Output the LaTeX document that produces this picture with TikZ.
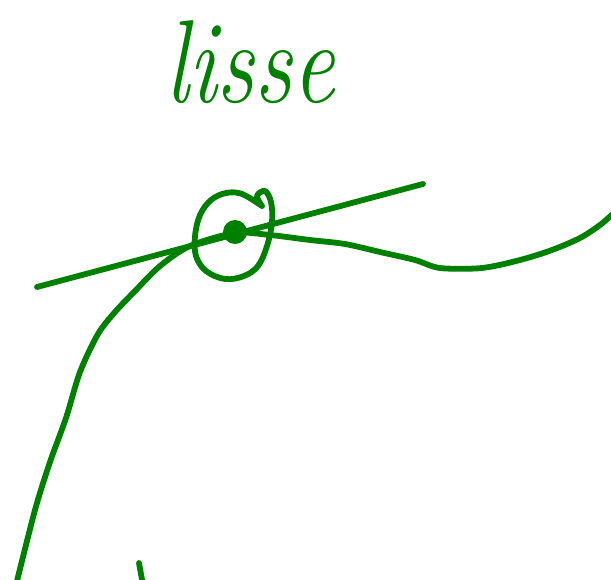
\documentclass[tikz,border=0pt]{standalone}
\definecolor{pen}{HTML}{008000}
\tikzset{ink/.style={draw=pen,line width=5.8pt,line cap=round,line join=round}}
\begin{document}
\begin{tikzpicture}[x=1pt,y=-1pt]
\useasboundingbox (0,0) rectangle (611,579);
% word
\node[text=pen,font=\fontsize{118}{118}\selectfont\itshape,inner sep=0pt,anchor=base,xscale=0.8] (word) at (250,102) {lisse};
% curve
\draw[ink] plot[smooth,tension=0.5] coordinates {(16,585) (35,510) (50,462) (66,418) (80,372) (98,334) (115,312) (135,291) (160,266) (190,246) (235,233) (270,235) (310,240) (345,244) (380,252) (415,260) (440,268) (482,268) (520,260) (552,250) (580,238) (600,225) (615,212)};
% tangent
\coordinate (ta) at (37,287);
\coordinate (tb) at (423,184);
\draw[ink] (ta) -- (tb);
% loop
\draw[ink] plot[smooth,tension=0.6] coordinates {(262,206) (257,196) (265,191) (271,202) (272,222) (267,246) (258,266) (244,276) (225,279) (206,271) (196,256) (195,236) (200,215) (211,200) (226,193) (242,194) (262,206)};
% point
\fill[pen] (235,232) circle (12);
% small stroke at bottom
\coordinate (sa) at (139,563);
\coordinate (sb) at (143,585);
\draw[ink] (sa) -- (sb);
\end{tikzpicture}
\end{document}
